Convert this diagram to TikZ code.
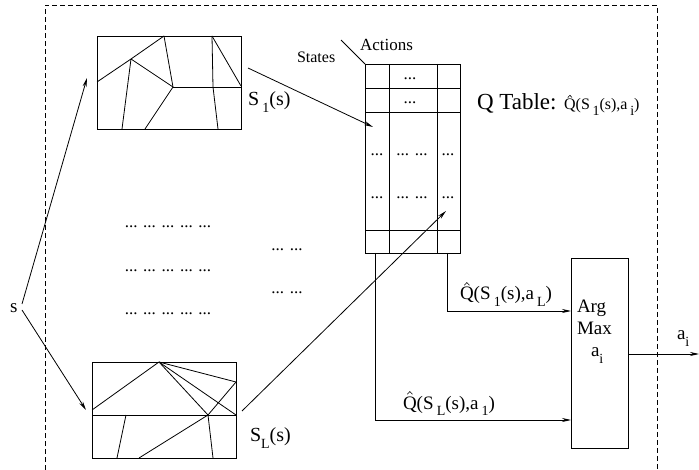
\documentclass[tikz,border=0pt]{standalone}
\usepackage{fontspec}
\setmainfont{Liberation Serif}
\usetikzlibrary{arrows.meta}
\newcommand{\Qh}{\leavevmode\ooalign{Q\cr\hfil\tikz[baseline=0pt]\draw[line width=0.6pt,line cap=round,line join=round] (0pt,0.78em)--(0.13em,0.92em)--(0.26em,0.78em);\hfil\cr}}
\newcommand{\sbs}[1]{\raisebox{-0.35em}{\fontsize{14}{15}\selectfont #1}}
\begin{document}
\begin{tikzpicture}[x=1pt,y=-1pt,
  every node/.style={inner sep=0pt,outer sep=0pt},
  lbl/.style={font=\fontsize{19}{21}\selectfont,anchor=base west},
  dts/.style={font=\fontsize{17}{18}\selectfont,anchor=base},
  box/.style={draw,line width=0.9pt,anchor=north west},
  part/.style={line width=0.8pt},
  conn/.style={line width=0.8pt},
  arr/.style={conn,-{Stealth[length=9pt,width=4pt]}},
  frame/.style={line width=0.8pt,dash pattern=on 5pt off 3pt}]
\useasboundingbox (0,0) rectangle (699,470);
% dashed frame
\draw[frame] (45,470) -- (45,5) -- (657,5) -- (657,470);
% partition boxes
\node[box,minimum width=144pt,minimum height=93pt] (P1) at (97,36) {};
\node[box,minimum width=144pt,minimum height=96pt] (P2) at (92,362) {};
% partitions top
\draw[part] (97,82)--(131,59)--(164,36);
\draw[part] (131,59)--(122,129);
\draw[part] (131,59)--(173,87);
\draw[part] (164,36)--(173,87);
\draw[part] (173,87)--(145,129);
\draw[part] (173,87)--(241,87);
\draw[part] (212,36)--(213,87)--(218,129);
\draw[part] (212,36)--(241,86);
% partitions bottom
\draw[part] (92,410)--(159,362)--(236,382);
\draw[part] (159,362)--(208,415);
\draw[part] (159,362)--(236,415);
\draw[part] (236,382)--(208,415);
\draw[part] (92,415)--(236,415);
\draw[part] (126,415)--(117,458);
\draw[part] (208,415)--(139,458);
\draw[part] (208,415)--(213,458);
% table
\node[box,minimum width=95pt,minimum height=189pt] (T) at (365,64) {};
\draw[part] (389,64)--(389,253);
\draw[part] (437,64)--(437,253);
\draw[part] (365,88)--(460,88);
\draw[part] (365,112)--(460,112);
\draw[part] (365,230)--(460,230);
\node[dts] (t1) at (410,80) {...};
\node[dts] (t2) at (410,104) {...};
\node[dts] (t3a) at (377,156) {...};
\node[dts] (t3b) at (412,156) {... ...};
\node[dts] (t3c) at (448,156) {...};
\node[dts] (t4a) at (377,199) {...};
\node[dts] (t4b) at (412,199) {... ...};
\node[dts] (t4c) at (448,199) {...};
% argmax
\node[box,minimum width=57pt,minimum height=190pt] (A) at (571,258) {};
\node[font=\fontsize{19}{22}\selectfont,align=left,anchor=north west] (argmax) at (577,300) {Arg\\Max\\\hspace{14pt}a\sbs{i}};
% middle dots
\node[dts] (m1) at (168,228) {... ... ... ... ...};
\node[dts] (m2) at (168,272) {... ... ... ... ...};
\node[dts] (m3) at (168,315) {... ... ... ... ...};
\node[dts] (m4) at (287,251) {... ...};
\node[dts] (m5) at (287,294) {... ...};
% labels
\node[lbl] (s) at (10,313) {s};
\node[lbl,font=\fontsize{16}{18}\selectfont] (states) at (297,63) {States};
\node[lbl,font=\fontsize{17}{18}\selectfont] (actions) at (360,51) {Actions};
\node[lbl,font=\fontsize{20}{22}\selectfont] (s1) at (248,106) {S\,\sbs{1}(s)};
\node[lbl,font=\fontsize{20}{22}\selectfont] (sl) at (250,441) {S\sbs{L}(s)};
\node[lbl,font=\fontsize{23}{25}\selectfont] (qt) at (477,110) {Q Table: {\fontsize{16}{18}\selectfont\Qh(S\,\sbs{1}(s),a\,\sbs{i})}};
\node[lbl] (q1) at (460,300) {\Qh(S\,\sbs{1}(s),a\,\sbs{L})};
\node[lbl] (q2) at (403,409) {\Qh(S\,\sbs{L}(s),a\,\sbs{1})};
\node[lbl] (aout) at (677,340) {a\sbs{i}};
% connector coordinates
\coordinate (s0) at (22,304);
\coordinate (s0b) at (22,310);
\coordinate (p1in) at (87,78);
\coordinate (p2in) at (86,410);
\coordinate (p1out) at (248,68);
\coordinate (p2out) at (242,411);
\coordinate (tin1) at (373,127);
\coordinate (tin2) at (446,211);
\coordinate (tl) at (375,253);
\coordinate (tr) at (447,253);
\coordinate (ain1) at (571,311);
\coordinate (ain2) at (571,420);
\coordinate (aout0) at (628,354);
\coordinate (aend) at (699,354);
\coordinate (actp) at (341,40);
% connectors
\draw[arr] (s0) -- (p1in);
\draw[arr] (s0b) -- (p2in);
\draw[arr] (p1out) -- (tin1);
\draw[arr] (p2out) -- (tin2);
\draw[arr] (tr) |- (ain1);
\draw[arr] (tl) |- (ain2);
\draw[arr] (aout0) -- (aend);
\draw[conn] (actp) -- (T.north west);
\end{tikzpicture}
\end{document}
